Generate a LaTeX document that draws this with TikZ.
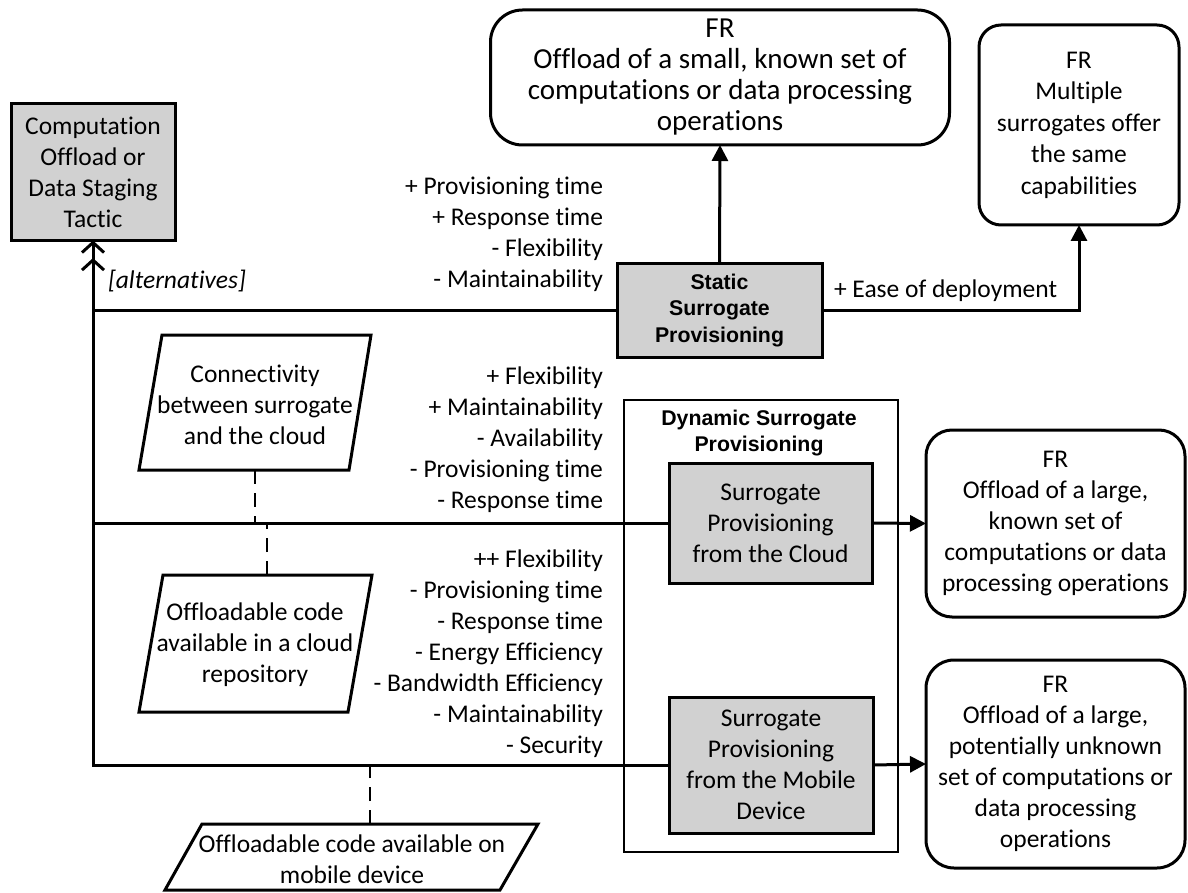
\documentclass[tikz,border=0pt]{standalone}
\usepackage{fontspec}
\setmainfont{Carlito}[Ligatures=NoCommon]
\newfontfamily\arialfont{Liberation Sans}
\usetikzlibrary{arrows.meta}
\begin{document}
\begin{tikzpicture}[x=1pt,y=-1pt,
  every node/.style={inner sep=0pt, outer sep=0pt, font=\fontsize{25.5}{31}\selectfont},
  graybox/.style={draw, line width=3pt, fill=black!18, align=center},
  frbox/.style={draw, line width=3pt, rounded corners=#1, align=center, fill=white},
  boldtext/.style={font=\arialfont\bfseries\fontsize{21.3}{26.5}\selectfont, align=center},
  attr/.style={anchor=east, align=right},
  conn/.style={line width=3pt},
  tri/.style={line width=3pt, -{Triangle[length=16pt,width=16pt]}},
  altarrow/.style={line width=3pt, -{Straight Barb[length=10pt,width=22pt,line width=3pt,sep=4pt]Straight Barb[length=10pt,width=22pt,line width=3pt]}},
  dashline/.style={line width=2.5pt, dash pattern=on 14pt off 9pt},
  para/.style={line width=3pt, line join=miter},
]
\useasboundingbox (0,0) rectangle (1188,893);

% boxes
\node[graybox, minimum width=164pt, minimum height=137pt] (tactic) at (93,172) {Computation\\Offload or\\Data Staging\\Tactic};
\node[graybox, boldtext, minimum width=205pt, minimum height=93pt] (static) at (719.5,310.5) {Static\\Surrogate\\Provisioning};
\node[frbox=32pt, minimum width=459pt, minimum height=135pt, font=\fontsize{29}{31}\selectfont] (fr1) at (720,77.5) {FR\\Offload of a small, known set of\\computations or data processing\\operations};
\node[frbox=22pt, minimum width=200pt, minimum height=200pt, font=\fontsize{25.5}{31.5}\selectfont] (fr2) at (1079,125) {FR\\Multiple\\surrogates offer\\the same\\capabilities};

\node[draw, line width=2.5pt, minimum width=274pt, minimum height=452pt] (dyn) at (761,626) {};
\node[boldtext] (dyntitle) at (759,433) {Dynamic Surrogate\\Provisioning};
\node[graybox, minimum width=203pt, minimum height=120pt] (cloud) at (770.5,523) {Surrogate\\Provisioning\\from the Cloud};
\node[graybox, minimum width=204pt, minimum height=136pt] (mobile) at (771,765) {Surrogate\\Provisioning\\from the Mobile\\Device};

\node[frbox=26pt, minimum width=259pt, minimum height=187pt] (fr3) at (1055.5,523.5) {FR\\Offload of a large,\\known set of\\computations or data\\processing operations};
\node[frbox=28pt, minimum width=259pt, minimum height=208pt] (fr4) at (1055.5,764) {FR\\Offload of a large,\\potentially unknown\\set of computations or\\data processing\\operations};

% attribute labels
\node[attr] (sattr) at (603,234) {+ Provisioning time\\+ Response time\\- Flexibility\\- Maintainability};
\node[attr] (cattr) at (603,440) {+ Flexibility\\+ Maintainability\\- Availability\\- Provisioning time\\- Response time};
\node[attr] (mattr) at (603,654) {++ Flexibility\\- Provisioning time\\- Response time\\- Energy Efficiency\\- Bandwidth Efficiency\\- Maintainability\\- Security};
\node[anchor=west, font=\fontsize{25.5}{31}\selectfont\itshape] (alt) at (108,281) {[alternatives]};
\node[anchor=west] (ease) at (834,291) {+ Ease of deployment};

% parallelograms
\coordinate (c1) at (162,335); \coordinate (c2) at (371,335);
\coordinate (c3) at (349,470); \coordinate (c4) at (139,470);
\draw[para] (c1) -- (c2) -- (c3) -- (c4) -- cycle;
\node[align=center] (connect) at (255,405) {Connectivity\\between surrogate\\and the cloud};

\coordinate (r1) at (163,575); \coordinate (r2) at (372,575);
\coordinate (r3) at (348,712); \coordinate (r4) at (139,712);
\draw[para] (r1) -- (r2) -- (r3) -- (r4) -- cycle;
\node[align=center] (repo) at (255,645) {Offloadable code\\available in a cloud\\repository};

\coordinate (m1) at (202,824); \coordinate (m2) at (538,824);
\coordinate (m3) at (500,890); \coordinate (m4) at (165,890);
\draw[para] (m1) -- (m2) -- (m3) -- (m4) -- cycle;
\node[align=center] (mobcode) at (352,859) {Offloadable code available on\\mobile device};

% dashed links
\coordinate (cb) at (255,470);
\draw[dashline] (cb) -- (cb |- cloud.west);
\coordinate (rt) at (267,575);
\draw[dashline] (rt) -- (rt |- cloud.west);
\coordinate (mt) at (370,824);
\draw[dashline] (mt) -- (mt |- mobile.west);

% connectors
\draw[altarrow] (mobile.west) -- (tactic.south |- mobile.west) -- (tactic.south);
\draw[conn] (tactic.south |- static.west) -- (static.west);
\draw[conn] (tactic.south |- cloud.west) -- (cloud.west);
\draw[tri] (static.north) -- (fr1.south);
\draw[tri] (static.east) -| (fr2.south);
\draw[tri] (cloud.east) -- (fr3.west);
\draw[tri] (mobile.east) -- (fr4.west);
\end{tikzpicture}
\end{document}
